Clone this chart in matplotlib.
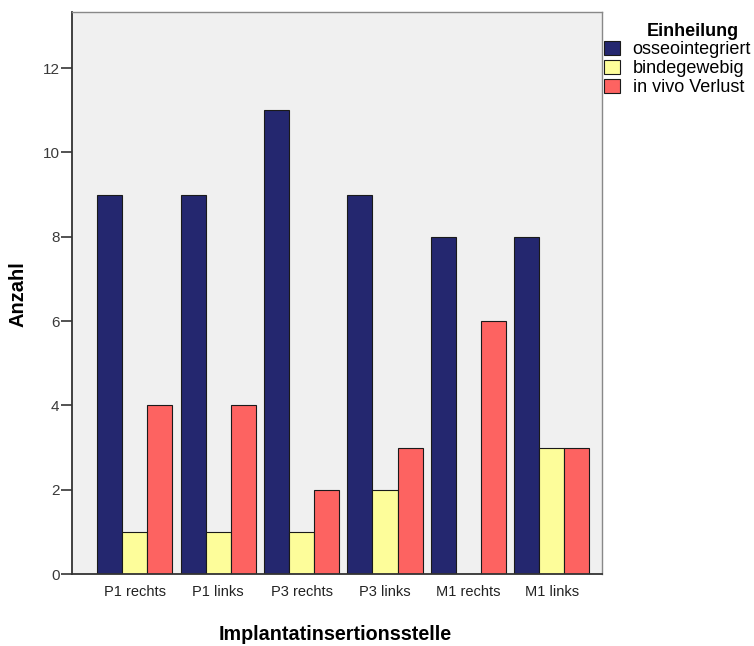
import matplotlib
matplotlib.use("Agg")
import matplotlib.pyplot as plt
import numpy as np

categories = ["P1 rechts", "P1 links", "P3 rechts", "P3 links", "M1 rechts", "M1 links"]
series_names = ["osseointegriert", "bindegewebig", "in vivo Verlust"]
osseointegriert = [9, 9, 11, 9, 8, 8]
bindegewebig = [1, 1, 1, 2, 0, 3]
verlust = [4, 4, 2, 3, 6, 3]
colors = ["#24276f", "#fdfd9a", "#fd6361"]
yticks = [0, 2, 4, 6, 8, 10, 12]

plt.rcParams['font.family'] = ['Liberation Sans', 'DejaVu Sans']

fig = plt.figure(figsize=(7.54, 6.46), dpi=100)
W, H = 754, 646
ax = fig.add_axes([72 / W, (H - 574) / H, (602 - 72) / W, (574 - 12) / H])
ax.set_facecolor("#f0f0f0")

x = np.arange(len(categories))
bw = 0.3
handles = []
for i, (vals, c, name) in enumerate(zip([osseointegriert, bindegewebig, verlust], colors, series_names)):
    b = ax.bar(x + (i - 1) * bw, vals, width=bw, color=c, edgecolor="#1a1a1a", linewidth=0.8, label=name, zorder=2)
    handles.append(b)

ax.set_xlim(-0.75, 5.6)
ax.set_ylim(0, 13.33)
ax.set_yticks(yticks)
ax.set_yticklabels([str(v) for v in yticks], fontsize=11, color="#3a3a3a")
ax.set_xticks(x)
ax.set_xticklabels(categories, fontsize=10.5, color="#222222")
ax.tick_params(axis='x', length=0, pad=8)
ax.tick_params(axis='y', length=8, width=1.3, color="#444444", pad=1)

for s in ["top", "right"]:
    ax.spines[s].set_color("#888888")
    ax.spines[s].set_linewidth(1.0)
for s in ["left", "bottom"]:
    ax.spines[s].set_color("#333333")
    ax.spines[s].set_linewidth(1.3)

fig.text(18 / W, 1 - 294 / H, "Anzahl", rotation=90, ha="center", va="center",
         fontsize=14.5, fontweight="bold")
fig.text(335 / W, 1 - 634 / H, "Implantatinsertionsstelle", ha="center", va="center",
         fontsize=14.2, fontweight="bold")

fig.text(693 / W, 1 - 32 / H, "Einheilung", ha="center", va="center",
         fontsize=13, fontweight="bold")
leg = fig.legend(handles=handles, labels=series_names, loc="upper left",
                 bbox_to_anchor=(602 / W, 1 - 39 / H), frameon=False,
                 fontsize=13, handlelength=0.9, handleheight=0.85, handletextpad=0.7,
                 labelspacing=0.08, borderaxespad=0, borderpad=0.1)

fig.savefig("out.png", dpi=100)
